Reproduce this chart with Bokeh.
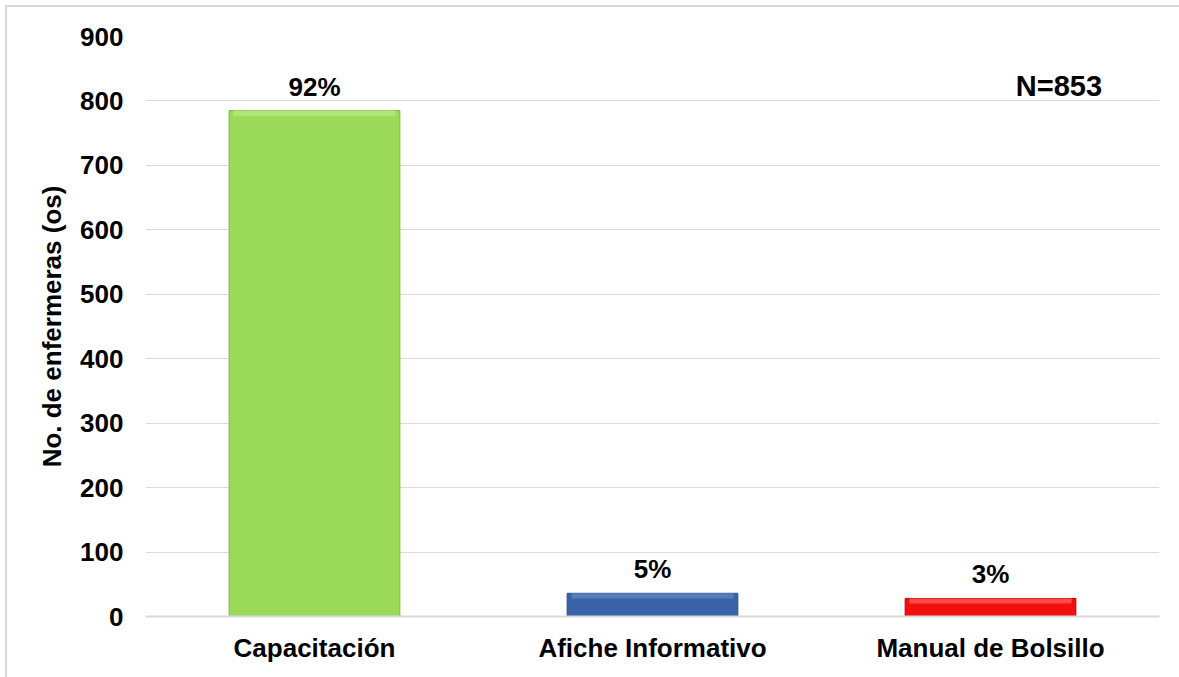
from bokeh.plotting import figure
from bokeh.models import ColumnDataSource, Label, FactorRange, Range1d
from bokeh.core.properties import value
from bokeh.embed import file_html
from bokeh.resources import INLINE

# Data
categories = ["Capacitación", "Afiche Informativo", "Manual de Bolsillo"]
counts = [785, 36, 28]
pct_labels = ["92%", "5%", "3%"]
sample_label = "N=853"
colors = ["#9BDB59", "#3A62A6", "#F20F0F"]
edge_colors = ["#7DB83F", "#2C4E86", "#C00000"]
highlight_colors = ["#B6EA84", "#5C82C2", "#FF5A5A"]
y_ticks = list(range(0, 901, 100))

FONT = "Liberation Sans"

source = ColumnDataSource(dict(
    cat=categories, val=counts, color=colors, edge=edge_colors,
    hi=highlight_colors, lab=pct_labels,
    hi_bottom=[c - 8 for c in counts],
))

p = figure(
    x_range=FactorRange(*categories, range_padding=0),
    y_range=Range1d(0, 900),
    width=1172, height=670,
    output_backend="svg", toolbar_location=None,
    min_border_left=138, min_border_right=22,
    min_border_top=29, min_border_bottom=63,
    margin=(5, 0, 0, 5),
    styles={"border-top": "2px solid #D9D9D9",
            "border-left": "2px solid #D9D9D9",
            "box-sizing": "content-box"},
)
p.outline_line_color = None
p.background_fill_color = "white"
p.border_fill_color = "white"

# Bars with a lighter bevel band along the top
p.vbar(x="cat", top="val", bottom=0, width=0.505, source=source,
       fill_color="color", line_color="edge", line_width=1)
p.vbar(x="cat", top="val", bottom="hi_bottom", width=0.48, source=source,
       fill_color="hi", line_color=None, fill_alpha=0.8)

# Percentage labels above the bars
p.text(x="cat", y="val", text="lab", source=source,
       text_align="center", text_baseline="bottom", y_offset=-9,
       text_font=value(FONT), text_font_size="26px",
       text_font_style="bold", text_color="black")

# Sample size
p.add_layout(Label(x=2.83, y=823, text=sample_label, text_align="right",
                   text_baseline="middle", text_font=FONT,
                   text_font_size="29px", text_font_style="bold",
                   text_color="black"))

# Axes
p.yaxis.ticker = y_ticks
p.yaxis.axis_label = "No. de enfermeras (os)"
p.yaxis.axis_label_text_font = FONT
p.yaxis.axis_label_text_font_size = "26px"
p.yaxis.axis_label_text_font_style = "bold"
p.yaxis.axis_label_text_color = "black"
p.yaxis.axis_label_standoff = 10
p.yaxis.major_label_text_font = FONT
p.yaxis.major_label_text_font_size = "26px"
p.yaxis.major_label_text_font_style = "bold"
p.yaxis.major_label_text_color = "black"
p.yaxis.major_label_standoff = 16
p.yaxis.axis_line_color = None
p.yaxis.major_tick_line_color = None
p.yaxis.minor_tick_line_color = None

p.xaxis.major_label_text_font = FONT
p.xaxis.major_label_text_font_size = "26px"
p.xaxis.major_label_text_font_style = "bold"
p.xaxis.major_label_text_color = "black"
p.xaxis.major_label_standoff = 10
p.xaxis.axis_line_color = "#D9D9D9"
p.xaxis.axis_line_width = 2
p.xaxis.major_tick_line_color = None
p.xaxis.minor_tick_line_color = None

p.xgrid.grid_line_color = None
p.ygrid.grid_line_color = "#D9D9D9"
p.ygrid.grid_line_width = 1

with open("out.html", "w") as f:
    f.write(file_html(p, INLINE))
